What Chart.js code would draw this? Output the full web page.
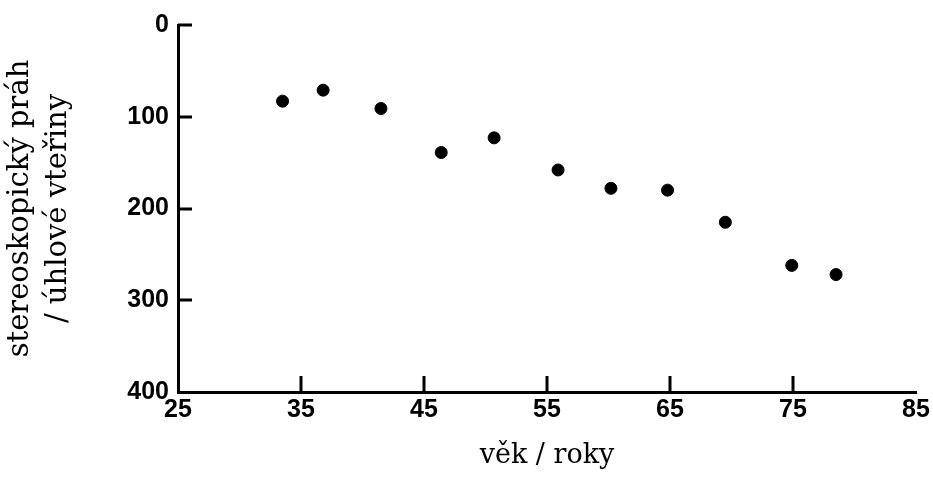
<!DOCTYPE html>
<html>
<head>
<meta charset="utf-8">
<script src="https://cdn.jsdelivr.net/npm/chart.js@4"></script>
<style>
  html, body { margin: 0; padding: 0; background: #fff; }
  #wrap { width: 933px; height: 478px; }
</style>
</head>
<body>
<div id="wrap"><canvas id="stereoChart" width="933" height="478"></canvas></div>
<script>
// hodnoty
const ages = [33.5, 36.8, 41.5, 46.4, 50.7, 55.9, 60.2, 64.8, 69.5, 74.9, 78.5];
const thresholds = [83, 71, 91, 139, 123, 158, 178, 180, 215, 262, 272];
const xTickValues = [25, 35, 45, 55, 65, 75, 85];
const yTickValues = [0, 100, 200, 300, 400];
const xTitle = "věk / roky";
const yTitle = ["stereoskopický práh", "/ úhlové vteřiny"];

// krátké značky dovnitř grafu
const innerTicks = {
  id: "innerTicks",
  afterDraw(chart) {
    const ctx = chart.ctx;
    const x = chart.scales.x, y = chart.scales.y;
    ctx.save();
    ctx.strokeStyle = "#000";
    ctx.lineWidth = 3;
    ctx.beginPath();
    xTickValues.slice(1, -1).forEach(v => {
      const px = Math.round(x.getPixelForValue(v));
      ctx.moveTo(px, y.bottom);
      ctx.lineTo(px, y.bottom - 16);
    });
    yTickValues.slice(0, -1).forEach(v => {
      const py = Math.round(y.getPixelForValue(v));
      ctx.moveTo(x.left, py);
      ctx.lineTo(x.left + 14, py);
    });
    ctx.stroke();
    ctx.restore();
  }
};

const tickFont = { family: "'Liberation Sans', Arial, sans-serif", size: 25, weight: "bold" };
const serif = "'DejaVu Serif', 'Liberation Serif', serif";

new Chart(document.getElementById("stereoChart"), {
  type: "scatter",
  data: {
    datasets: [{
      data: ages.map((a, i) => ({ x: a, y: thresholds[i] })),
      backgroundColor: "#000",
      borderColor: "#000",
      pointRadius: 6,
      pointHoverRadius: 6
    }]
  },
  options: {
    responsive: false,
    animation: false,
    layout: { padding: { top: 25, right: 17, left: 0, bottom: 0 } },
    plugins: { legend: { display: false }, tooltip: { enabled: false } },
    scales: {
      x: {
        type: "linear",
        min: 25, max: 85,
        afterBuildTicks: s => { s.ticks = xTickValues.map(v => ({ value: v })); },
        afterFit: s => { s.height = 86; },
        grid: { display: false, drawTicks: false },
        border: { display: true, color: "#000", width: 3 },
        ticks: { color: "#000", font: tickFont, padding: 3, maxRotation: 0, autoSkip: false },
        title: { display: true, text: xTitle, color: "#000", font: { family: serif, size: 27, lineHeight: 1.2 }, padding: { top: 0, bottom: 6 } }
      },
      y: {
        type: "linear",
        reverse: true,
        min: 0, max: 400,
        afterBuildTicks: s => { s.ticks = yTickValues.map(v => ({ value: v })); },
        afterFit: s => { s.width = 178; },
        grid: { display: false, drawTicks: false },
        border: { display: true, color: "#000", width: 3 },
        ticks: { color: "#000", font: tickFont, padding: 9, autoSkip: false },
        title: { display: true, text: yTitle, color: "#000", font: { family: serif, size: 29, lineHeight: 1.3 }, padding: { top: 2, bottom: 0 } }
      }
    }
  },
  plugins: [innerTicks]
});
</script>
</body>
</html>
